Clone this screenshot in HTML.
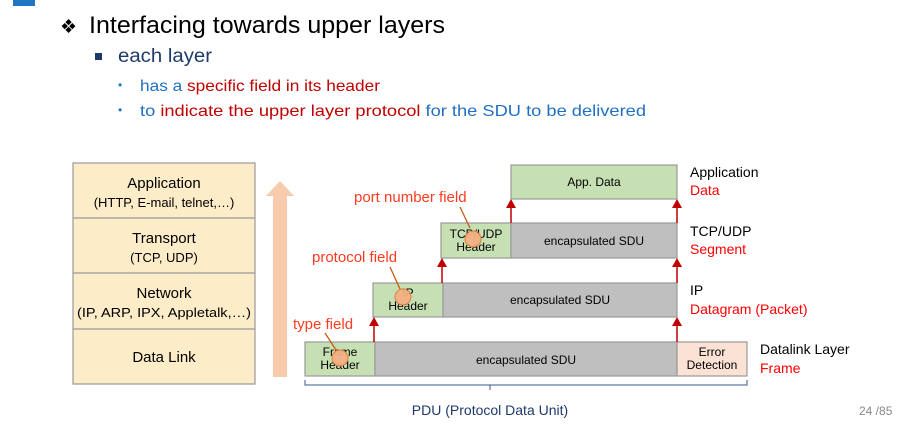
<!DOCTYPE html>
<html><head><meta charset="utf-8"><style>
html,body{margin:0;padding:0;background:#fff;width:904px;height:426px;overflow:hidden}
svg text{font-family:"Liberation Sans",sans-serif}
</style></head><body>
<svg width="904" height="426" viewBox="0 0 904 426" xmlns="http://www.w3.org/2000/svg">
<rect x="13" y="0" width="22" height="6" fill="#1f77c4"/>
<text x="60" y="33" font-size="19" fill="#000">❖</text>
<text x="89" y="33" font-size="24" fill="#000" textLength="356" lengthAdjust="spacingAndGlyphs">Interfacing towards upper layers</text>
<rect x="95" y="53" width="7" height="7" fill="#1f3a6a"/>
<text x="118" y="62" font-size="19" fill="#1f3a6a" textLength="94" lengthAdjust="spacingAndGlyphs">each layer</text>
<text x="118" y="89" font-size="12" fill="#1f77c4">•</text>
<text x="140" y="91" font-size="16" textLength="240" lengthAdjust="spacingAndGlyphs"><tspan fill="#1f6fc4">has a </tspan><tspan fill="#c00000">specific field in its header</tspan></text>
<text x="118" y="114" font-size="12" fill="#1f77c4">•</text>
<text x="140" y="116" font-size="16" textLength="506" lengthAdjust="spacingAndGlyphs"><tspan fill="#1f6fc4">to </tspan><tspan fill="#c00000">indicate the upper layer protocol</tspan><tspan fill="#1f6fc4"> for the SDU to be delivered</tspan></text>

<g stroke="#999" stroke-width="1.2" fill="#fdecc8">
<rect x="73" y="163" width="182" height="221"/>
<line x1="73" y1="218" x2="255" y2="218"/><line x1="73" y1="273" x2="255" y2="273"/><line x1="73" y1="329" x2="255" y2="329"/>
</g>
<g font-size="15" fill="#000" text-anchor="middle">
<text x="164" y="188">Application</text><text x="164" y="207" font-size="13">(HTTP, E-mail, telnet,…)</text>
<text x="164" y="243">Transport</text><text x="164" y="262" font-size="13">(TCP, UDP)</text>
<text x="164" y="298">Network</text><text x="164" y="317" font-size="13" textLength="174" lengthAdjust="spacingAndGlyphs">(IP, ARP, IPX, Appletalk,…)</text>
<text x="164" y="362">Data Link</text>
</g>
<polygon points="280,181 294,196 287,196 287,377 273,377 273,196 266,196" fill="#f8cbad"/>

<g stroke="#999" stroke-width="1.2">
<rect x="305" y="342" width="70" height="34" fill="#c6e0b4"/>
<rect x="375" y="342" width="302" height="34" fill="#bfbfbf"/>
<rect x="677" y="342" width="70" height="34" fill="#fbe2d5"/>
<rect x="373" y="283" width="70" height="34" fill="#c6e0b4"/>
<rect x="443" y="283" width="234" height="34" fill="#bfbfbf"/>
<rect x="441" y="223" width="70" height="35" fill="#c6e0b4"/>
<rect x="511" y="223" width="166" height="35" fill="#bfbfbf"/>
<rect x="511" y="165" width="166" height="34" fill="#c6e0b4"/>
</g>
<g font-size="12" fill="#000" text-anchor="middle">
<text x="340" y="356">Frame</text><text x="340" y="369">Header</text>
<text x="526" y="364">encapsulated SDU</text>
<text x="712" y="356">Error</text><text x="712" y="369">Detection</text>
<text x="408" y="297">IP</text><text x="408" y="310">Header</text>
<text x="560" y="304">encapsulated SDU</text>
<text x="476" y="238">TCP/UDP</text><text x="476" y="251">Header</text>
<text x="594" y="245">encapsulated SDU</text>
<text x="594" y="186">App. Data</text>
</g>
<g stroke="#c00000" stroke-width="1.5" fill="#c00000">
<line x1="374" y1="342" x2="374" y2="324"/><polygon points="374,317 369,326 379,326" stroke="none"/>
<line x1="677" y1="342" x2="677" y2="324"/><polygon points="677,317 672,326 682,326" stroke="none"/>
<line x1="442" y1="283" x2="442" y2="265"/><polygon points="442,258 437,267 447,267" stroke="none"/>
<line x1="677" y1="283" x2="677" y2="265"/><polygon points="677,258 672,267 682,267" stroke="none"/>
<line x1="511" y1="223" x2="511" y2="206"/><polygon points="511,199 506,208 516,208" stroke="none"/>
<line x1="677" y1="223" x2="677" y2="206"/><polygon points="677,199 672,208 682,208" stroke="none"/>
</g>
<g font-size="15" fill="#ff3b1f">
<text x="293" y="329">type field</text>
<text x="312" y="262">protocol field</text>
<text x="354" y="202">port number field</text>
</g>
<g stroke="#c55a11" stroke-width="1.3">
<line x1="325" y1="333" x2="338" y2="353"/><line x1="390" y1="267" x2="400" y2="289"/><line x1="460" y1="207" x2="470" y2="228"/>
</g>
<g fill="#f4b183" stroke="#e07b39" stroke-width="1" opacity="0.95">
<circle cx="340" cy="358" r="8"/><circle cx="403" cy="297" r="8"/><circle cx="473" cy="239" r="8"/>
</g>
<path d="M305,380 V385 H490 V390 M490,385 H747 V380" fill="none" stroke="#3a5a8a" stroke-width="1"/>
<text x="490" y="415" font-size="14" fill="#1f3a6a" text-anchor="middle">PDU (Protocol Data Unit)</text>
<g font-size="14">
<text x="690" y="177" fill="#000">Application</text><text x="690" y="195" fill="#ff0000">Data</text>
<text x="690" y="236" fill="#000">TCP/UDP</text><text x="690" y="254" fill="#ff0000">Segment</text>
<text x="690" y="295" fill="#000">IP</text><text x="690" y="314" fill="#ff0000">Datagram (Packet)</text>
<text x="760" y="354" fill="#000">Datalink Layer</text><text x="760" y="373" fill="#ff0000">Frame</text>
</g>
<text x="859" y="415" font-size="12" fill="#888">24 /85</text>
</svg>
</body></html>
